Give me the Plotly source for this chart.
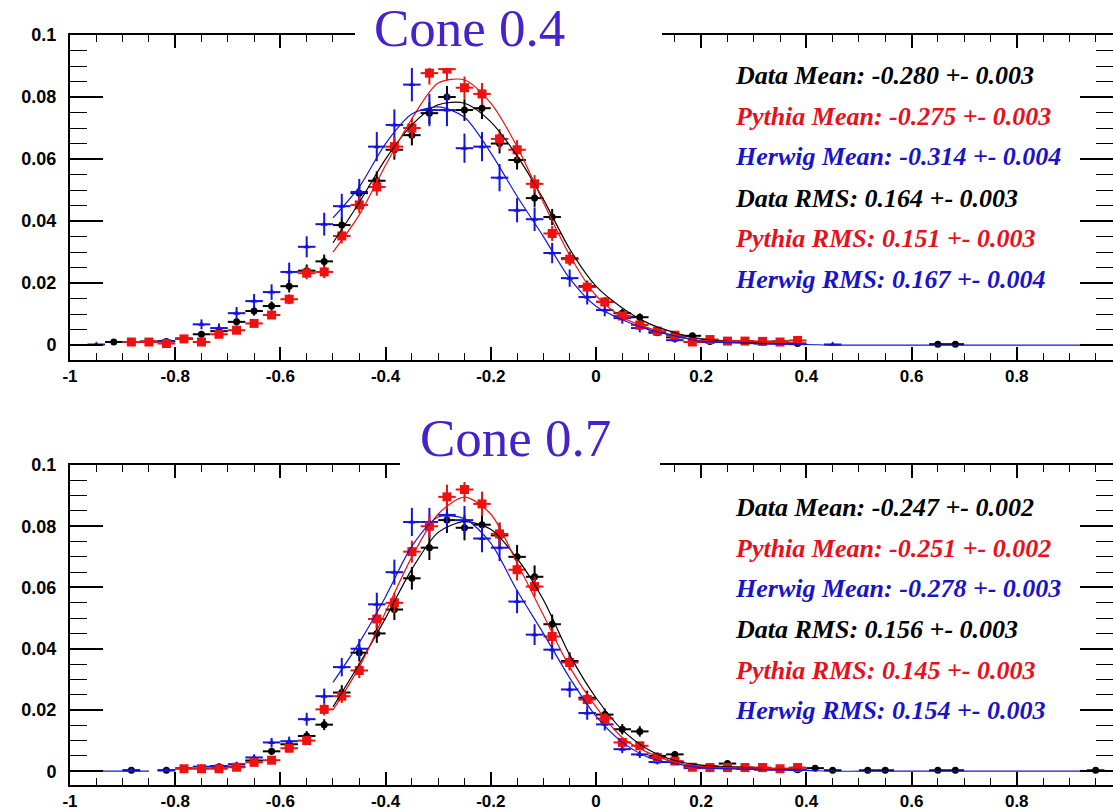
import plotly.graph_objects as go

N = None

# ---------------- data ----------------
BIN_CENTERS = [-0.9833, -0.95, -0.9167, -0.8833, -0.85, -0.8167, -0.7833, -0.75, -0.7167, -0.6833,
               -0.65, -0.6167, -0.5833, -0.55, -0.5167, -0.4833, -0.45, -0.4167, -0.3833, -0.35,
               -0.3167, -0.2833, -0.25, -0.2167, -0.1833, -0.15, -0.1167, -0.0833, -0.05, -0.0167,
               0.0167, 0.05, 0.0833, 0.1167, 0.15, 0.1833, 0.2167, 0.25, 0.2833, 0.3167,
               0.35, 0.3833, 0.4167, 0.45, 0.4833, 0.5167, 0.55, 0.5833, 0.6167, 0.65,
               0.6833, 0.7167, 0.75, 0.7833, 0.8167, 0.85, 0.8833, 0.9167, 0.95, 0.9833]
HALF_BIN = 1 / 60

# Cone 0.4
top_data = [N, N, 0.001, 0.001, 0.0012, 0.0012, 0.002, 0.0035, 0.0045, 0.0075,
            0.011, 0.0126, 0.019, 0.024, 0.027, 0.0387, 0.049, 0.053, 0.063, 0.0677,
            0.0748, 0.080, 0.0758, 0.0764, 0.065, 0.0597, 0.0474, 0.0413, 0.028, 0.019,
            0.014, 0.0103, 0.009, 0.004, 0.0025, 0.003, 0.0012, 0.0013, 0.0013, 0.001,
            0.0012, 0.0005, N, N, N, N, N, N, N, 0.0003,
            0.0003, N, N, N, N, N, N, N, N, N]
top_data_err = [N, N, 0.0005, 0.0005, 0.0005, 0.0005, 0.0008, 0.001, 0.001, 0.0012,
                0.0015, 0.0015, 0.002, 0.002, 0.0022, 0.0025, 0.0028, 0.003, 0.0032, 0.0033,
                0.0035, 0.0036, 0.0035, 0.0035, 0.0032, 0.0031, 0.0028, 0.0026, 0.0021, 0.0018,
                0.0015, 0.0013, 0.0012, 0.0008, 0.0006, 0.0007, 0.0004, 0.0004, 0.0004, 0.0004,
                0.0004, 0.0003, N, N, N, N, N, N, N, 0.0002,
                0.0002, N, N, N, N, N, N, N, N, N]
top_pythia = [N, N, N, 0.001, 0.001, 0.0005, 0.002, 0.001, 0.0035, 0.0048,
              0.007, 0.0097, 0.0148, 0.0232, 0.0236, 0.0352, 0.0452, 0.051, 0.064, 0.070,
              0.0877, 0.089, 0.083, 0.081, 0.0665, 0.063, 0.052, 0.036, 0.0277, 0.0187,
              0.0139, 0.0094, 0.0065, 0.0045, 0.0032, 0.001, 0.0018, 0.0013, 0.0013, 0.0012,
              0.001, 0.0015, N, N, N, N, N, N, N, N,
              N, N, N, N, N, N, N, N, N, N]
top_pythia_err = [N, N, N, 0.0004, 0.0004, 0.0003, 0.0006, 0.0004, 0.0008, 0.001,
                  0.0011, 0.0013, 0.0016, 0.002, 0.002, 0.0024, 0.0027, 0.0028, 0.0032, 0.0033,
                  0.0037, 0.0037, 0.0036, 0.0035, 0.0032, 0.0031, 0.0028, 0.0024, 0.0021, 0.0017,
                  0.0015, 0.0012, 0.001, 0.0008, 0.0007, 0.0004, 0.0005, 0.0004, 0.0004, 0.0004,
                  0.0004, 0.0004, N, N, N, N, N, N, N, N,
                  N, N, N, N, N, N, N, N, N, N]
top_herwig = [N, 0.0002, N, 0.001, 0.001, 0.0013, 0.0022, 0.0067, 0.0055, 0.0103,
              0.0142, 0.0171, 0.0236, 0.0317, 0.039, 0.0448, 0.0494, 0.064, 0.071, 0.084,
              0.0758, 0.0758, 0.0635, 0.064, 0.054, 0.0435, 0.0406, 0.0297, 0.0216, 0.0155,
              0.0113, 0.0087, 0.0055, 0.0043, 0.0016, 0.001, 0.001, 0.001, 0.001, 0.0005,
              0.0005, 0.0003, N, 0.0002, N, N, N, N, N, N,
              N, N, N, N, N, N, N, N, N, N]
top_herwig_err = [N, 0.0003, N, 0.0006, 0.0006, 0.0007, 0.0009, 0.0016, 0.0015, 0.002,
                  0.0023, 0.0025, 0.003, 0.0034, 0.0037, 0.004, 0.0042, 0.0047, 0.005, 0.0054,
                  0.0052, 0.0052, 0.0047, 0.0047, 0.0044, 0.0039, 0.0038, 0.0033, 0.0028, 0.0024,
                  0.002, 0.0018, 0.0014, 0.0013, 0.0008, 0.0006, 0.0006, 0.0006, 0.0006, 0.0004,
                  0.0004, 0.0003, N, 0.0003, N, N, N, N, N, N,
                  N, N, N, N, N, N, N, N, N, N]

# Cone 0.7
bot_data = [N, N, N, 0.0003, N, 0.0003, N, N, 0.0015, 0.0015,
            0.0035, 0.0065, 0.0088, 0.0115, 0.0152, 0.0257, 0.0387, 0.045, 0.0528, 0.063,
            0.073, 0.082, 0.0795, 0.0805, 0.077, 0.070, 0.0635, 0.048, 0.036, 0.024,
            0.0185, 0.0137, 0.013, 0.005, 0.0055, 0.0015, 0.0015, 0.0025, 0.0012, 0.001,
            0.0008, 0.0005, 0.001, 0.0003, N, 0.0003, 0.0003, N, N, 0.0003,
            0.0003, N, N, N, N, N, N, N, 0.0003, N]
bot_data_err = [N, N, N, 0.0003, N, 0.0003, N, N, 0.0006, 0.0006,
                0.0009, 0.0012, 0.0014, 0.0016, 0.0018, 0.0024, 0.0029, 0.0031, 0.0034, 0.0037,
                0.004, 0.0042, 0.0041, 0.0042, 0.004, 0.0039, 0.0037, 0.0032, 0.0028, 0.0023,
                0.002, 0.0017, 0.0017, 0.001, 0.0011, 0.0006, 0.0006, 0.0008, 0.0005, 0.0005,
                0.0004, 0.0003, 0.0005, 0.0002, N, 0.0002, 0.0002, N, N, 0.0002,
                0.0002, N, N, N, N, N, N, N, 0.0002, N]
bot_pythia = [N, N, N, N, N, N, 0.0008, 0.0008, 0.0008, 0.0013,
              0.0029, 0.0036, 0.0075, 0.010, 0.0202, 0.0245, 0.0329, 0.0497, 0.055, 0.0717,
              0.080, 0.0896, 0.092, 0.0873, 0.0775, 0.0658, 0.0603, 0.044, 0.0355, 0.0234,
              0.0172, 0.0094, 0.0083, 0.0045, 0.0033, 0.0013, 0.0012, 0.0012, 0.0012, 0.0012,
              0.0008, 0.0012, N, N, N, N, N, N, N, N,
              N, N, N, N, N, N, N, N, N, N]
bot_pythia_err = [N, N, N, N, N, N, 0.0004, 0.0004, 0.0004, 0.0005,
                  0.0007, 0.0008, 0.0012, 0.0014, 0.002, 0.0022, 0.0025, 0.003, 0.0032, 0.0036,
                  0.0038, 0.004, 0.004, 0.004, 0.0038, 0.0035, 0.0033, 0.0028, 0.0026, 0.0021,
                  0.0018, 0.0013, 0.0012, 0.0009, 0.0008, 0.0005, 0.0005, 0.0005, 0.0005, 0.0005,
                  0.0004, 0.0005, N, N, N, N, N, N, N, N,
                  N, N, N, N, N, N, N, N, N, N]
bot_herwig = [N, N, N, 0.0003, N, 0.0003, 0.001, 0.0015, 0.0017, 0.0023,
              0.0045, 0.0094, 0.0098, 0.017, 0.0245, 0.034, 0.040, 0.0545, 0.065, 0.0814,
              0.0814, 0.0837, 0.082, 0.076, 0.073, 0.0554, 0.0446, 0.0397, 0.0267, 0.019,
              0.0153, 0.0072, 0.0055, 0.003, 0.003, 0.001, 0.001, 0.001, 0.0008, 0.0005,
              0.0005, 0.0005, N, N, N, N, N, N, N, N,
              N, N, N, N, N, N, N, N, N, N]
bot_herwig_err = [N, N, N, 0.0003, N, 0.0003, 0.0005, 0.0006, 0.0006, 0.0007,
                  0.001, 0.0015, 0.0015, 0.0021, 0.0025, 0.003, 0.0032, 0.0038, 0.0041, 0.0046,
                  0.0046, 0.0047, 0.0046, 0.0045, 0.0044, 0.0038, 0.0034, 0.0032, 0.0026, 0.0022,
                  0.002, 0.0013, 0.0012, 0.0008, 0.0008, 0.0005, 0.0005, 0.0005, 0.0004, 0.0003,
                  0.0003, 0.0003, N, N, N, N, N, N, N, N,
                  N, N, N, N, N, N, N, N, N, N]

# fitted / smoothed curves
CURVE_X = [-1.0, -0.95, -0.9, -0.85, -0.8, -0.75, -0.7, -0.65, -0.6, -0.55,
           -0.5, -0.45, -0.4, -0.35, -0.3, -0.25, -0.2, -0.15, -0.1, -0.05,
           0.0, 0.05, 0.1, 0.15, 0.2, 0.25, 0.3, 0.35, 0.4,
           0.45, 0.5, 0.55, 0.6, 0.65, 0.7, 0.75, 0.8, 0.85, 0.9, 0.95, 1.0]
top_data_fit = [N] * 10 + [0.033, 0.046, 0.060, 0.071, 0.0775, 0.078, 0.072, 0.061, 0.047, 0.031,
                           0.019, 0.012, 0.007, 0.004, 0.002, 0.0012, 0.0008, 0.0006, 0.0004] + [N] * 12
top_pythia_fit = [N] * 10 + [0.030, 0.042, 0.058, 0.073, 0.0845, 0.0855, 0.078, 0.064, 0.046, 0.029,
                             0.016, 0.009, 0.0055, 0.003, 0.0015, 0.0012, 0.001, 0.0008, 0.0006] + [N] * 12
top_herwig_fit = [0, 0] + [N] * 8 + [0.041, 0.051, 0.065, 0.0745, 0.0768, 0.0735, 0.062, 0.048, 0.035, 0.0215,
                                     0.0125, 0.0082, 0.005, 0.003, 0.0012, 0.0008, 0.0005, 0.0003, 0.0002] + [0] * 12
bot_data_fit = [N] * 10 + [0.021, 0.035, 0.050, 0.066, 0.078, 0.0815, 0.079, 0.0695, 0.056, 0.038,
                           0.024, 0.0135, 0.007, 0.0035, 0.002, 0.0015, 0.001, 0.0007, 0.0005] + [N] * 12
bot_pythia_fit = [N] * 10 + [0.020, 0.034, 0.052, 0.070, 0.084, 0.0895, 0.084, 0.068, 0.051, 0.034,
                             0.021, 0.011, 0.006, 0.003, 0.0015, 0.0012, 0.001, 0.0008, 0.0006] + [N] * 12
bot_herwig_fit = [0, 0, 0, 0] + [N] * 6 + [0.029, 0.042, 0.057, 0.0735, 0.083, 0.0825, 0.0745, 0.059, 0.045, 0.0305,
                                           0.018, 0.0095, 0.0045, 0.0025, 0.0012, 0.0008, 0.0006, 0.0004, 0.0003] + [0] * 12

X_TICKS = [-1, -0.8, -0.6, -0.4, -0.2, 0, 0.2, 0.4, 0.6, 0.8]
X_TICK_TEXT = ["-1", "-0.8", "-0.6", "-0.4", "-0.2", "0", "0.2", "0.4", "0.6", "0.8"]
Y_TICKS = [0, 0.02, 0.04, 0.06, 0.08, 0.1]
Y_TICK_TEXT = ["0", "0.02", "0.04", "0.06", "0.08", "0.1"]

TITLES = ["Cone 0.4", "Cone 0.7"]
top_stats = ["Data Mean: -0.280 +- 0.003", "Pythia Mean: -0.275 +- 0.003", "Herwig Mean: -0.314 +- 0.004",
             "Data RMS: 0.164 +- 0.003", "Pythia RMS: 0.151 +- 0.003", "Herwig RMS: 0.167 +- 0.004"]
bot_stats = ["Data Mean: -0.247 +- 0.002", "Pythia Mean: -0.251 +- 0.002", "Herwig Mean: -0.278 +- 0.003",
             "Data RMS: 0.156 +- 0.003", "Pythia RMS: 0.145 +- 0.003", "Herwig RMS: 0.154 +- 0.003"]

# ---------------- styling / layout ----------------
W, H = 1113, 812
ML, MR, MT, MB = 70, 0, 0, 27
PW, PH = W - ML - MR, H - MT - MB

def px_x(p):
    return (p - ML) / PW

def px_y(p):
    return (H - MB - p) / PH

BLACK = "#000000"
RED = "#ee1111"
BLUE = "#1414dd"
TXT_RED = "#e8101c"
TXT_BLUE = "#1a14c8"
TITLE_COL = "#4622cc"

fig = go.Figure()

def add_points(vals, errs, color, symbol, size, xa, ya):
    fig.add_trace(go.Scatter(
        x=BIN_CENTERS, y=vals, mode="markers", xaxis=xa, yaxis=ya,
        marker=dict(color=color, symbol=symbol, size=size, line=dict(width=0)),
        error_y=dict(type="data", array=errs, color=color, thickness=2, width=0),
        error_x=dict(type="constant", value=HALF_BIN, color=color, thickness=2, width=0),
        showlegend=False, hoverinfo="skip"))

def add_curve(vals, color, xa, ya):
    fig.add_trace(go.Scatter(
        x=CURVE_X, y=vals, mode="lines", xaxis=xa, yaxis=ya,
        line=dict(color=color, width=1.2, shape="spline", smoothing=0.8),
        connectgaps=False, showlegend=False, hoverinfo="skip"))

panels = [
    ("x", "y", top_data, top_data_err, top_pythia, top_pythia_err, top_herwig, top_herwig_err,
     top_data_fit, top_pythia_fit, top_herwig_fit),
    ("x2", "y2", bot_data, bot_data_err, bot_pythia, bot_pythia_err, bot_herwig, bot_herwig_err,
     bot_data_fit, bot_pythia_fit, bot_herwig_fit),
]
for (xa, ya, d, de, p, pe, h, he, df, pf, hf) in panels:
    add_points(d, de, BLACK, "circle", 7, xa, ya)
    add_points(h, he, BLUE, "triangle-up", 6, xa, ya)
    add_points(p, pe, RED, "square", 9, xa, ya)
    add_curve(df, BLACK, xa, ya)
    add_curve(pf, RED, xa, ya)
    add_curve(hf, BLUE, xa, ya)

tick_font = dict(family="Liberation Sans, Arial, sans-serif", size=18, color="black", weight="bold")
xtick_font = dict(family="Liberation Sans, Arial, sans-serif", size=17, color="black", weight="bold")

def xaxis_cfg(anchor):
    return dict(domain=[0, 1], range=[-1, 0.983], anchor=anchor, automargin=False,
                tickmode="array", tickvals=X_TICKS, ticktext=X_TICK_TEXT,
                ticks="inside", ticklen=13, tickwidth=1.6, tickcolor="black",
                minor=dict(dtick=0.05, tick0=0, ticks="inside", ticklen=7, tickwidth=1.3, tickcolor="black"),
                showline=True, linewidth=2, linecolor="black", mirror="ticks",
                showgrid=False, zeroline=False, tickfont=xtick_font, ticklabelstandoff=0)

def yaxis_cfg(anchor, dom, rng):
    return dict(domain=dom, range=rng, anchor=anchor, automargin=False,
                tickmode="array", tickvals=Y_TICKS, ticktext=Y_TICK_TEXT,
                ticks="inside", ticklen=33, tickwidth=1.6, tickcolor="black",
                minor=dict(dtick=0.005, tick0=0, ticks="inside", ticklen=17, tickwidth=1.3, tickcolor="black"),
                showline=True, linewidth=2, linecolor="black", mirror="ticks",
                showgrid=False, zeroline=False, tickfont=tick_font, ticklabelstandoff=8)

fig.update_layout(
    width=W, height=H,
    margin=dict(l=ML, r=MR, t=MT, b=MB, pad=0, autoexpand=False),
    paper_bgcolor="white", plot_bgcolor="white",
    xaxis=xaxis_cfg("y"),
    yaxis=yaxis_cfg("x", [px_y(360), px_y(35)], [-0.0048, 0.1]),
    xaxis2=xaxis_cfg("y2"),
    yaxis2=yaxis_cfg("x2", [px_y(785), px_y(465)], [-0.0045, 0.1]),
)

# white boxes behind the titles
shapes = [
    dict(type="rect", xref="paper", yref="paper", x0=px_x(355), x1=px_x(662), y0=px_y(68), y1=px_y(0),
         fillcolor="white", line=dict(width=0), layer="above"),
    dict(type="rect", xref="paper", yref="paper", x0=px_x(400), x1=px_x(660), y0=px_y(482), y1=px_y(412),
         fillcolor="white", line=dict(width=0), layer="above"),
]
fig.update_layout(shapes=shapes)

ann = []
title_font = dict(family="Liberation Serif, Times New Roman, serif", size=53, color=TITLE_COL)
ann.append(dict(text=TITLES[0], x=px_x(469), y=px_y(28), xref="paper", yref="paper",
                xanchor="center", yanchor="middle", showarrow=False, font=title_font))
ann.append(dict(text=TITLES[1], x=px_x(515), y=px_y(438), xref="paper", yref="paper",
                xanchor="center", yanchor="middle", showarrow=False, font=title_font))

stat_colors = [BLACK, TXT_RED, TXT_BLUE, BLACK, TXT_RED, TXT_BLUE]
top_rows = [76, 117, 157, 198, 238, 279]
bot_rows = [507, 548, 588, 629, 670, 710]
for lines, rows in ((top_stats, top_rows), (bot_stats, bot_rows)):
    for txt, row, col in zip(lines, rows, stat_colors):
        ann.append(dict(text=txt, x=px_x(733), y=px_y(row), xref="paper", yref="paper",
                        xanchor="left", yanchor="middle", showarrow=False,
                        font=dict(family="Liberation Serif, Times New Roman, serif", size=26,
                                  color=col, weight="bold", style="italic")))
fig.update_layout(annotations=ann)

fig.write_html("out.html")
